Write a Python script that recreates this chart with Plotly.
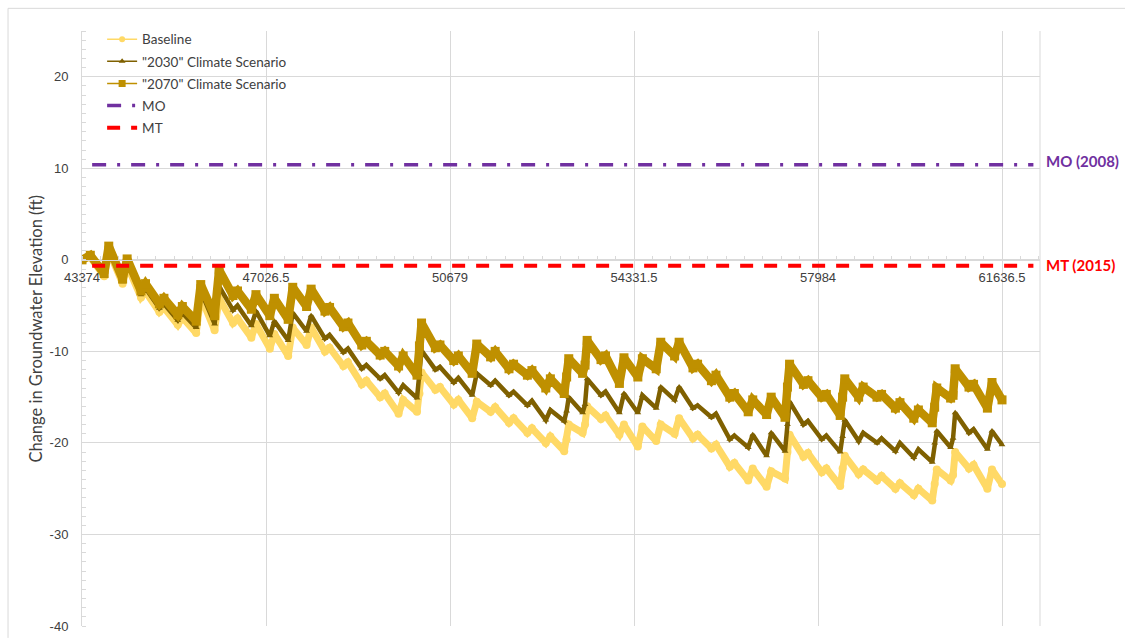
import datetime as dt
import plotly.graph_objects as go

# ---- data -----------------------------------------------------------------
# Seasonal high (mid-March) for each year and the preceding winter low
# (mid-December of the year before), change in groundwater elevation in ft.
peak_years = list(range(2019, 2069))

baseline_peak = [0.3, 1.0, -0.6, -3.5, -5.2, -6.3, -4.0, -4.2, -6.4, -7.0,
                 -8.1, -7.4, -7.4, -9.6, -11.2, -13.2, -14.6, -15.3, -12.3, -13.9,
                 -15.3, -15.5, -16.1, -17.3, -18.4, -19.3, -18.0, -16.0, -17.0, -18.0,
                 -18.2, -18.0, -17.3, -19.1, -20.2, -22.2, -22.8, -23.1, -19.1, -21.1,
                 -22.8, -21.4, -22.9, -23.6, -24.4, -25.0, -22.9, -21.0, -22.4, -22.9]
baseline_low = [-1.8, -2.6, -4.1, -5.7, -7.1, -8.0, -7.7, -6.9, -8.5,
                -9.7, -10.5, -9.3, -10.0, -11.6, -13.6, -15.0, -16.8, -16.6, -14.2,
                -15.8, -17.3, -16.6, -17.8, -18.9, -20.0, -20.9, -18.9, -17.4, -19.1,
                -20.4, -19.8, -19.0, -19.5, -20.6, -22.6, -24.1, -24.8, -23.9, -21.5,
                -23.2, -24.7, -23.4, -24.1, -25.0, -25.7, -26.3, -24.1, -22.8, -25.0]

s2030_peak = [0.4, 1.2, -0.3, -3.1, -4.8, -5.8, -3.4, -2.9, -5.0, -5.6,
              -6.7, -5.8, -6.1, -8.2, -9.7, -11.5, -12.6, -13.7, -9.9, -11.7,
              -12.9, -12.4, -13.2, -14.4, -15.4, -16.4, -15.0, -13.0, -14.4, -14.6,
              -14.8, -13.9, -13.9, -15.9, -16.8, -19.2, -19.1, -18.9, -15.5, -17.6,
              -19.2, -17.5, -18.9, -19.5, -20.0, -20.7, -18.7, -16.7, -18.5, -18.7]
s2030_low = [-1.7, -2.4, -3.8, -5.3, -6.6, -7.4, -7.0, -5.5, -7.2,
             -8.3, -8.8, -7.8, -8.6, -10.1, -11.9, -13.0, -14.5, -15.1, -12.0,
             -13.4, -14.8, -13.7, -14.8, -15.9, -17.5, -17.6, -16.7, -14.8, -16.7,
             -16.7, -16.2, -15.3, -16.2, -17.2, -19.6, -20.5, -21.4, -20.9, -18.0,
             -19.6, -21.0, -19.8, -20.0, -20.9, -21.6, -22.1, -20.5, -18.9, -20.7]

s2070_peak = [0.5, 1.5, 0.1, -2.6, -4.2, -5.1, -2.7, -1.1, -3.4, -3.8,
              -4.2, -3.0, -3.2, -5.2, -6.9, -8.9, -10.0, -10.5, -6.9, -9.3,
              -10.5, -9.2, -10.0, -11.4, -12.1, -13.0, -10.8, -8.8, -10.5, -10.7,
              -10.8, -9.0, -9.0, -11.4, -12.6, -14.6, -15.3, -15.0, -11.4, -13.2,
              -14.7, -13.0, -13.9, -14.7, -15.6, -16.4, -14.0, -11.9, -13.6, -13.4]
s2070_low = [-1.5, -2.1, -3.4, -4.8, -6.0, -6.7, -6.1, -3.9, -5.4,
             -6.1, -6.5, -5.1, -5.6, -7.3, -9.3, -10.4, -11.6, -12.6, -9.6,
             -11.0, -12.4, -10.6, -11.9, -12.6, -14.0, -14.6, -12.4, -10.9, -13.5,
             -12.8, -11.9, -10.5, -11.8, -13.2, -15.0, -16.6, -16.9, -17.2, -13.6,
             -15.0, -17.0, -15.0, -15.0, -16.2, -17.3, -17.8, -15.1, -13.9, -16.2]

# Early-February readings in wet years, where recharge arrives in two steps
wet_years = [2037, 2045, 2046, 2057, 2060, 2065, 2066]
baseline_wet = [-14.6, -19.6, -18.0, -21.0, -22.8, -24.5, -23.5]
s2030_wet = [-12.5, -16.5, -15.8, -18.0, -19.3, -20.0, -19.5]
s2070_wet = [-9.4, -12.8, -11.5, -13.9, -15.0, -16.1, -14.8]

# First (Oct 2018) and last (Sep 2068) simulated values
baseline_ends = [0.0, -24.5]
s2030_ends = [0.0, -20.2]
s2070_ends = [0.0, -15.3]

mo_level = 10.4     # measurable objective
mt_level = -0.65    # minimum threshold
threshold_span = ["2019-04-20", "2070-06-15"]

x_tick_labels = ["43374", "47026.5", "50679", "54331.5", "57984", "61636.5"]
y_tick_labels = ["-40", "-30", "-20", "-10", "0", "10", "20"]

# ---- helpers --------------------------------------------------------------
EPOCH = dt.date(1899, 12, 30)


def serial(d):
    """Spreadsheet serial day number for a date."""
    return (d - EPOCH).days


def build(peaks, lows, wet, ends):
    xs = [serial(dt.date(2018, 10, 1))]
    ys = [ends[0]]
    wet_map = dict(zip(wet_years, wet))
    for i, yr in enumerate(peak_years):
        if i > 0:
            xs.append(serial(dt.date(yr - 1, 12, 15)))
            ys.append(lows[i - 1])
            if yr in wet_map:
                xs.append(serial(dt.date(yr, 2, 1)))
                ys.append(wet_map[yr])
        xs.append(serial(dt.date(yr, 3, 15)))
        ys.append(peaks[i])
    xs.append(serial(dt.date(2068, 9, 30)))
    ys.append(ends[1])
    return xs, ys


C_BASE = "#FFD966"
C_2030 = "#7F6000"
C_2070 = "#BF9000"
C_MO = "#7030A0"
C_MT = "#FF0000"
GRID = "#d9d9d9"
TXT = "#404040"

fig = go.Figure()

series = [
    ("Baseline", baseline_peak, baseline_low, baseline_wet, baseline_ends,
     C_BASE, "circle", 6, 7, 8),
    ('"2030" Climate Scenario', s2030_peak, s2030_low, s2030_wet, s2030_ends,
     C_2030, "triangle-up", 6, 4.5, 6),
    ('"2070" Climate Scenario', s2070_peak, s2070_low, s2070_wet, s2070_ends,
     C_2070, "square", 7, 8.5, 9),
]

# dense simulated series drawn as a heavy band with markers on the turning points
for name, pk, lo, wet, ends, col, sym, leg_ms, lw, ms in series:
    xs, ys = build(pk, lo, wet, ends)
    fig.add_trace(go.Scatter(
        x=xs, y=ys, mode="lines+markers", name=name, showlegend=False,
        line=dict(color=col, width=lw, shape="linear"),
        marker=dict(symbol=sym, size=ms, color=col),
    ))

# legend entries
for i, (name, pk, lo, wet, ends, col, sym, leg_ms, lw, ms) in enumerate(series):
    fig.add_trace(go.Scatter(
        x=[None], y=[None], mode="lines+markers", name=name,
        legendgroup=f"g{i}",
        line=dict(color=col, width=1.5),
        marker=dict(symbol=sym, size=leg_ms, color=col),
    ))

span = [serial(dt.date.fromisoformat(s)) for s in threshold_span]
fig.add_trace(go.Scatter(
    x=span, y=[mo_level, mo_level], mode="lines", name="MO", legendgroup="g3",
    line=dict(color=C_MO, width=3.5, dash="14px,11px,3px,11px"),
))
fig.add_trace(go.Scatter(
    x=span, y=[mt_level, mt_level], mode="lines", name="MT", legendgroup="g4",
    line=dict(color=C_MT, width=4, dash="13px,11px"),
))

y_lo, y_hi = -40, 25
x_lo, x_hi = 43374, 62390

fig.update_layout(
    width=1125, height=643,
    margin=dict(l=82, r=85, t=31, b=9),
    paper_bgcolor="white", plot_bgcolor="white",
    font=dict(family="Lato, Open Sans, sans-serif", size=13, color=TXT),
    showlegend=True,
    legend=dict(
        x=0.021, y=1.012, xanchor="left", yanchor="top",
        bgcolor="rgba(0,0,0,0)", tracegroupgap=1.6,
        font=dict(family="Lato, sans-serif", size=13.5, color=TXT),
        itemwidth=30,
    ),
    xaxis=dict(
        range=[x_lo, x_hi],
        tickvals=[float(v) for v in x_tick_labels], ticktext=x_tick_labels,
        showgrid=True, gridcolor=GRID, gridwidth=1,
        zeroline=False, showline=True, linecolor=GRID, linewidth=1,
        anchor="free", position=(0 - y_lo) / (y_hi - y_lo),
        ticks="", ticklabelstandoff=6,
        tickfont=dict(family="Liberation Sans, Arial, sans-serif", size=13, color=TXT),
        minor=dict(ticks="inside", ticklen=4, tickcolor=GRID,
                   tick0=43374, dtick=365.25, showgrid=False),
    ),
    yaxis=dict(
        range=[y_lo, y_hi],
        tickvals=[float(v) for v in y_tick_labels], ticktext=y_tick_labels,
        showgrid=True, gridcolor=GRID, gridwidth=1,
        zeroline=False, showline=True, linecolor=GRID, linewidth=1,
        ticks="outside", ticklen=10, tickcolor="rgba(0,0,0,0)",
        tickfont=dict(family="Liberation Sans, Arial, sans-serif", size=13, color=TXT),
        minor=dict(ticks="inside", ticklen=4, tickcolor=GRID,
                   dtick=1, showgrid=False),
    ),
    shapes=[
        # right edge of the plotting area
        dict(type="line", xref="paper", yref="paper", x0=1, x1=1, y0=0, y1=1,
             line=dict(color=GRID, width=1)),
        # chart-area frame (top and left edges)
        dict(type="line", xref="paper", yref="paper",
             x0=-0.0772, x1=1.09, y0=1.0381, y1=1.0381,
             line=dict(color=GRID, width=1)),
        dict(type="line", xref="paper", yref="paper",
             x0=-0.0772, x1=-0.0772, y0=-0.02, y1=1.0381,
             line=dict(color=GRID, width=1)),
    ],
    annotations=[
        dict(text="Change in Groundwater Elevation (ft)", textangle=-90,
             xref="paper", yref="paper", x=-0.049, y=0.5,
             xanchor="center", yanchor="middle", showarrow=False,
             font=dict(family="Lato, sans-serif", size=16.5, color=TXT)),
        dict(text="<b>MO (2008)</b>", xref="paper", yref="y",
             x=1.004, y=10.8, xanchor="left", yanchor="middle", showarrow=False,
             font=dict(family="Lato, sans-serif", size=15, color=C_MO)),
        dict(text="<b>MT (2015)</b>", xref="paper", yref="y",
             x=1.004, y=-0.6, xanchor="left", yanchor="middle", showarrow=False,
             font=dict(family="Lato, sans-serif", size=15, color=C_MT)),
    ],
)

fig.write_html("out.html")
